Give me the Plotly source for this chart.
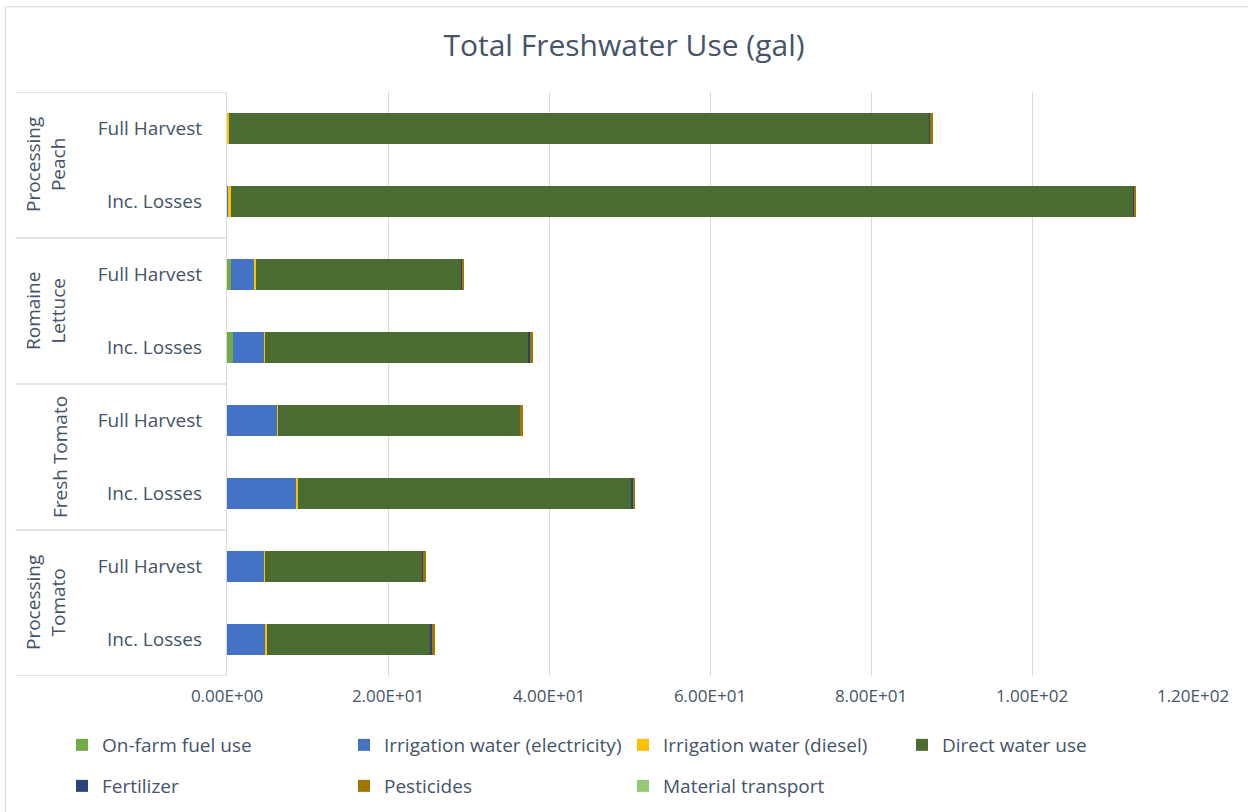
import plotly.graph_objects as go

# ---------------- data (top-to-bottom order) ----------------
groups = ["Processing<br>Peach", "Romaine<br>Lettuce", "Fresh Tomato", "Processing<br>Tomato"]
scenarios = ["Full Harvest", "Inc. Losses", "Full Harvest", "Inc. Losses",
             "Full Harvest", "Inc. Losses", "Full Harvest", "Inc. Losses"]

on_farm_fuel = [0.0, 0.0, 0.55, 0.8, 0.0, 0.0, 0.0, 0.0]
irr_elec = [0.0, 0.15, 2.85, 3.85, 6.25, 8.6, 4.65, 4.75]
irr_diesel = [0.2, 0.3, 0.25, 0.05, 0.05, 0.25, 0.12, 0.25]
direct_water = [87.1, 112.2, 25.5, 32.7, 30.1, 41.3, 19.5, 20.3]
fertilizer = [0.05, 0.05, 0.05, 0.25, 0.05, 0.25, 0.12, 0.12]
pesticides = [0.37, 0.25, 0.25, 0.37, 0.37, 0.25, 0.37, 0.37]
material_transport = [0.0, 0.0, 0.0, 0.0, 0.0, 0.0, 0.0, 0.0]

series_names = ["On-farm fuel use", "Irrigation water (electricity)", "Irrigation water (diesel)",
                "Direct water use", "Fertilizer", "Pesticides", "Material transport"]
series_values = [on_farm_fuel, irr_elec, irr_diesel, direct_water, fertilizer, pesticides, material_transport]
series_colors = ["#70AD47", "#4472C4", "#FFC000", "#4A6B31", "#264478", "#A07500", "#94C973"]

x_tickvals = [0, 20, 40, 60, 80, 100, 120]
x_ticktext = ["0.00E+00", "2.00E+01", "4.00E+01", "6.00E+01", "8.00E+01", "1.00E+02", "1.20E+02"]

title_text = "Total Freshwater Use (gal)"

# ---------------- geometry helpers ----------------
W, H = 1248, 812
L, R, T, B = 227, 55, 92, 136
PW, PH = W - L - R, H - T - B


def px_x(x):
    return (x - L) / PW


def px_y(y):
    return (H - B - y) / PH


FONT = "Open Sans"
TXT = "#44546A"
GRID = "#D9D9D9"

ypos = list(range(len(scenarios)))

# legend slot (pixel x of legend box, pixel y of row centre) for each series
legend_x = [62, 344, 623, 902, 62, 344, 623]
legend_y = [745, 745, 745, 745, 786, 786, 786]
legend_ids = ["legend"] + ["legend%d" % k for k in range(2, 8)]

fig = go.Figure()
for i, (name, vals, col) in enumerate(zip(series_names, series_values, series_colors)):
    fig.add_trace(go.Bar(
        y=ypos, x=vals, orientation="h", name=name,
        marker=dict(color=col, line=dict(width=0)),
        legend=legend_ids[i], showlegend=True,
    ))

# group labels
group_centers = [0.5, 2.5, 4.5, 6.5]
group_xpx = [45, 45, 60, 45]
annotations = []
for g, yc, xp in zip(groups, group_centers, group_xpx):
    annotations.append(dict(
        text=g, x=px_x(xp), xref="paper", y=yc, yref="y", textangle=-90,
        showarrow=False, xanchor="center", yanchor="middle",
        font=dict(family=FONT, size=19, color=TXT), align="center"))

shapes = []
for yb in [-0.5, 1.5, 3.5, 5.5, 7.5]:
    shapes.append(dict(type="line", xref="paper", yref="y", x0=px_x(15.7), x1=px_x(227),
                       y0=yb, y1=yb, line=dict(color=GRID, width=1.3)))
# chart border (top and left)
shapes.append(dict(type="line", xref="paper", yref="paper", x0=px_x(5.5), x1=px_x(1248),
                   y0=px_y(6.7), y1=px_y(6.7), line=dict(color="#DDE1E6", width=1.3)))
shapes.append(dict(type="line", xref="paper", yref="paper", x0=px_x(5.5), x1=px_x(5.5),
                   y0=px_y(6.7), y1=px_y(812), line=dict(color="#DDE1E6", width=1.3)))

layout_legends = {}
for lid, lx, ly in zip(legend_ids, legend_x, legend_y):
    layout_legends[lid] = dict(
        orientation="h", xref="container", yref="container", x=lx / W, y=1 - ly / H,
        xanchor="left", yanchor="middle", traceorder="normal",
        font=dict(family=FONT, size=19, color=TXT), bgcolor="rgba(0,0,0,0)")

fig.update_layout(
    width=W, height=H,
    margin=dict(l=L, r=R, t=T, b=B, pad=0),
    paper_bgcolor="white", plot_bgcolor="white",
    barmode="stack", bargap=0.58, showlegend=True,
    title=dict(text=title_text, x=0.5, xref="container", xanchor="center",
               y=1 - 45 / H, yref="container", yanchor="middle",
               font=dict(family=FONT, size=30, color=TXT)),
    font=dict(family=FONT, color=TXT),
    xaxis=dict(range=[0, 120], tickvals=x_tickvals, ticktext=x_ticktext,
               showgrid=True, gridcolor=GRID, gridwidth=1, zeroline=False, showline=False,
               tickfont=dict(family=FONT, size=17, color=TXT), ticks="", ticklabelstandoff=8),
    yaxis=dict(range=[7.5, -0.5], tickvals=ypos, ticktext=scenarios,
               showgrid=False, zeroline=False, showline=True, linecolor=GRID, linewidth=1.3,
               tickfont=dict(family=FONT, size=19, color=TXT), ticks="", ticklabelstandoff=20),
    annotations=annotations,
    shapes=shapes,
    **layout_legends,
)

fig.write_html("out.html")
